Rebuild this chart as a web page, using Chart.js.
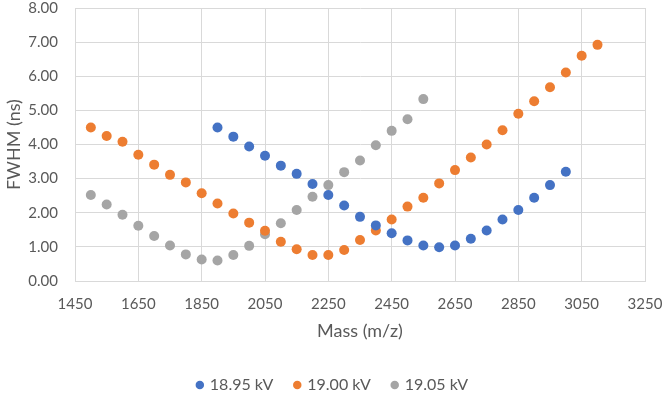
<!DOCTYPE html>
<html>
<head>
<meta charset="utf-8">
<script src="https://cdn.jsdelivr.net/npm/chart.js@4"></script>
<style>
  html, body { margin: 0; padding: 0; background: #fff; }
  #wrap { width: 666px; height: 396px; }
</style>
</head>
<body>
<div id="wrap"><canvas id="fwhmChart" width="666" height="396"></canvas></div>
<script>
const seriesNames = ['18.95 kV', '19.00 kV', '19.05 kV'];
const seriesColors = ['#4472C4', '#ED7D31', '#A5A5A5'];

const mass1895 = [1900, 1950, 2000, 2050, 2100, 2150, 2200, 2250, 2300, 2350, 2400, 2450,
                  2500, 2550, 2600, 2650, 2700, 2750, 2800, 2850, 2900, 2950, 3000];
const fwhm1895 = [4.50, 4.23, 3.94, 3.67, 3.38, 3.14, 2.84, 2.52, 2.21, 1.88, 1.63, 1.40,
                  1.19, 1.04, 0.99, 1.04, 1.24, 1.48, 1.80, 2.08, 2.44, 2.81, 3.20];

const mass1900 = [1500, 1550, 1600, 1650, 1700, 1750, 1800, 1850, 1900, 1950, 2000, 2050,
                  2100, 2150, 2200, 2250, 2300, 2350, 2400, 2450, 2500, 2550, 2600, 2650,
                  2700, 2750, 2800, 2850, 2900, 2950, 3000, 3050, 3100];
const fwhm1900 = [4.50, 4.25, 4.08, 3.70, 3.41, 3.11, 2.89, 2.57, 2.27, 1.98, 1.71, 1.47,
                  1.15, 0.93, 0.76, 0.76, 0.91, 1.20, 1.48, 1.80, 2.18, 2.44, 2.86, 3.25,
                  3.62, 4.00, 4.42, 4.90, 5.27, 5.68, 6.11, 6.60, 6.92];

const mass1905 = [1500, 1550, 1600, 1650, 1700, 1750, 1800, 1850, 1900, 1950, 2000, 2050,
                  2100, 2150, 2200, 2250, 2300, 2350, 2400, 2450, 2500, 2550];
const fwhm1905 = [2.52, 2.24, 1.94, 1.62, 1.32, 1.04, 0.78, 0.63, 0.60, 0.76, 1.03, 1.37,
                  1.69, 2.08, 2.47, 2.81, 3.19, 3.53, 3.98, 4.40, 4.74, 5.33];

const xTicks = [1450, 1650, 1850, 2050, 2250, 2450, 2650, 2850, 3050, 3250];
const yTicks = [0, 1, 2, 3, 4, 5, 6, 7, 8];

const textColor = '#595959';
const gridColor = '#d9d9d9';
const fontFamily = 'Lato, "Open Sans", sans-serif';

function toPoints(xs, ys) {
    return xs.map((x, i) => ({ x: x, y: ys[i] }));
}

const allMass = [mass1895, mass1900, mass1905];
const allFwhm = [fwhm1895, fwhm1900, fwhm1905];

const datasets = seriesNames.map((name, i) => ({
    label: name,
    data: toPoints(allMass[i], allFwhm[i]),
    backgroundColor: seriesColors[i],
    borderColor: seriesColors[i],
    pointRadius: 5,
    pointHoverRadius: 5,
    pointBorderWidth: 0,
    showLine: false
}));

const ctx = document.getElementById('fwhmChart').getContext('2d');
new Chart(ctx, {
    type: 'scatter',
    data: { datasets: datasets },
    options: {
        responsive: false,
        animation: false,
        layout: { padding: 0, autoPadding: false },
        plugins: {
            tooltip: { enabled: false },
            legend: {
                position: 'bottom',
                maxHeight: 41,
                labels: {
                    usePointStyle: true,
                    pointStyle: 'circle',
                    boxWidth: 4,
                    boxHeight: 6,
                    padding: 22,
                    color: textColor,
                    font: { family: fontFamily, size: 16 }
                }
            }
        },
        scales: {
            x: {
                type: 'linear',
                min: xTicks[0],
                max: xTicks[xTicks.length - 1],
                afterBuildTicks: (scale) => {
                    scale.ticks = xTicks.map(v => ({ value: v }));
                },
                afterFit: (scale) => {
                    // fixed plot box instead of the padding the tick labels ask for
                    scale.height = 74;
                    scale.paddingLeft = 0;
                    scale.paddingRight = 21;
                },
                grid: { color: gridColor, lineWidth: 1, drawTicks: false },
                border: { color: gridColor, width: 1 },
                ticks: {
                    color: textColor,
                    padding: 14,
                    maxRotation: 0,
                    font: { family: fontFamily, size: 15 },
                    callback: (v) => String(v)
                },
                title: {
                    display: true,
                    text: 'Mass (m/z)',
                    color: textColor,
                    font: { family: fontFamily, size: 18 },
                    padding: { top: 4, bottom: 13 }
                }
            },
            y: {
                type: 'linear',
                min: yTicks[0],
                max: yTicks[yTicks.length - 1],
                afterBuildTicks: (scale) => {
                    scale.ticks = yTicks.map(v => ({ value: v }));
                },
                afterFit: (scale) => {
                    scale.width = 75;
                    scale.paddingTop = 8;
                    scale.paddingBottom = 0;
                },
                grid: { color: gridColor, lineWidth: 1, drawTicks: false },
                border: { color: gridColor, width: 1 },
                ticks: {
                    color: textColor,
                    padding: 17,
                    font: { family: fontFamily, size: 15 },
                    callback: (v) => Number(v).toFixed(2)
                },
                title: {
                    display: true,
                    text: 'FWHM (ns)',
                    color: textColor,
                    font: { family: fontFamily, size: 18 },
                    padding: { top: 3, bottom: 0 }
                }
            }
        }
    }
});
</script>
</body>
</html>
